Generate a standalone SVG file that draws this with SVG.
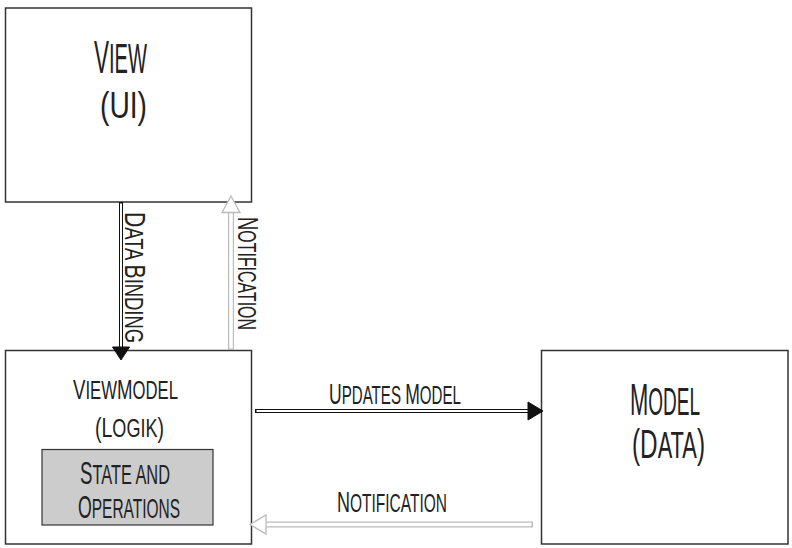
<svg xmlns="http://www.w3.org/2000/svg" width="792" height="548" viewBox="0 0 792 548">
<style>
.box{fill:#fff;stroke:#333;stroke-width:1.5}
.inner{fill:#ccc;stroke:#333;stroke-width:1.2}
text{font-family:"Liberation Sans Narrow","Liberation Sans",Arial,sans-serif;fill:#222}
.dark-o{fill:none;stroke:#111;stroke-width:4}
.dark-i{fill:none;stroke:#fff;stroke-width:2}
.lite-o{fill:none;stroke:#bbb;stroke-width:6}
.lite-i{fill:none;stroke:#fff;stroke-width:3.6}
.dark-h{fill:#111;stroke:#111;stroke-width:1}
.lite-h{fill:#fff;stroke:#bbb;stroke-width:1.3}
</style>
<rect width="792" height="548" fill="#fff"/>
<g id="view">
<rect class="box" x="5.5" y="8" width="246" height="194"/>
<text x="94" y="73" textLength="53" lengthAdjust="spacingAndGlyphs"><tspan font-size="47">V</tspan><tspan font-size="42">IEW</tspan></text>
<text x="100" y="118" font-size="36" textLength="47" lengthAdjust="spacingAndGlyphs">(UI)</text>
</g>
<g id="viewmodel">
<rect class="box" x="5.5" y="350.5" width="246" height="193.5"/>
<text x="73" y="399" textLength="105" lengthAdjust="spacingAndGlyphs"><tspan font-size="28">V</tspan><tspan font-size="25">IEW</tspan><tspan font-size="28">M</tspan><tspan font-size="25">ODEL</tspan></text>
<text x="95" y="437" textLength="69" lengthAdjust="spacingAndGlyphs"><tspan font-size="27">(L</tspan><tspan font-size="25">OGIK</tspan><tspan font-size="27">)</tspan></text>
<g id="state">
<rect class="inner" x="42" y="449.5" width="171" height="75.5"/>
<text x="80" y="484" textLength="90" lengthAdjust="spacingAndGlyphs"><tspan font-size="32">S</tspan><tspan font-size="28">TATE AND</tspan></text>
<text x="78" y="518" textLength="102" lengthAdjust="spacingAndGlyphs"><tspan font-size="32">O</tspan><tspan font-size="28">PERATIONS</tspan></text>
</g>
</g>
<g id="model">
<rect class="box" x="541.5" y="350.5" width="246.5" height="193.5"/>
<text x="630" y="415" textLength="70" lengthAdjust="spacingAndGlyphs"><tspan font-size="45">M</tspan><tspan font-size="39">ODEL</tspan></text>
<text x="632" y="458" textLength="73" lengthAdjust="spacingAndGlyphs"><tspan font-size="40">(D</tspan><tspan font-size="36">ATA</tspan><tspan font-size="40">)</tspan></text>
</g>
<g id="connectors">
<g id="data-binding">
<path class="dark-o" d="M121,202 V347"/>
<path class="dark-i" d="M121,203.5 V347"/>
<polygon class="dark-h" points="112.5,347 129.5,347 121,360"/>
<text transform="translate(125,212) rotate(90)" x="0" y="0" textLength="131" lengthAdjust="spacingAndGlyphs"><tspan font-size="30">D</tspan><tspan font-size="26">ATA </tspan><tspan font-size="30">B</tspan><tspan font-size="26">INDING</tspan></text>
</g>
<g id="notification-up">
<path class="lite-o" d="M231,350 V212"/>
<path class="lite-i" d="M231,348.5 V212"/>
<polygon class="lite-h" points="231,196 222,212.5 240,212.5"/>
<text transform="translate(238,217) rotate(90)" x="0" y="0" textLength="113" lengthAdjust="spacingAndGlyphs"><tspan font-size="29">N</tspan><tspan font-size="25">OTIFICATION</tspan></text>
</g>
<g id="updates-model">
<path class="dark-o" d="M255,411 H528"/>
<path class="dark-i" d="M256.5,411 H528"/>
<polygon class="dark-h" points="528,402 528,420 543,411"/>
<text x="329" y="404" textLength="132" lengthAdjust="spacingAndGlyphs"><tspan font-size="29">U</tspan><tspan font-size="25">PDATES </tspan><tspan font-size="29">M</tspan><tspan font-size="25">ODEL</tspan></text>
</g>
<g id="notification-left">
<path class="lite-o" d="M533,524.5 H266"/>
<path class="lite-i" d="M531.5,524.5 H266"/>
<polygon class="lite-h" points="250,524.5 266,515 266,534"/>
<text x="337" y="511.5" textLength="110" lengthAdjust="spacingAndGlyphs"><tspan font-size="29">N</tspan><tspan font-size="25">OTIFICATION</tspan></text>
</g>
</g>
</svg>
